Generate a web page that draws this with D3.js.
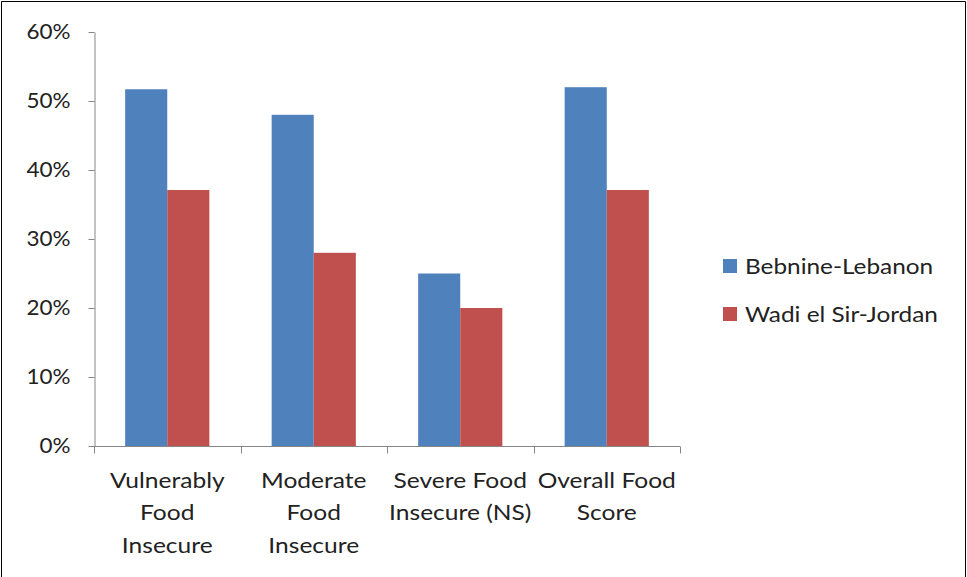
<!DOCTYPE html>
<html>
<head>
<meta charset="utf-8">
<script src="https://cdn.jsdelivr.net/npm/d3@7/dist/d3.min.js"></script>
<style>
  html, body { margin: 0; padding: 0; background: #fff; }
  svg { display: block; }
  text { font-family: Lato, "Open Sans", sans-serif; fill: #222; }
</style>
</head>
<body>
<svg id="chart" width="967" height="577"></svg>
<script>
// Food insecurity indicators by site
const categories = [
  ["Vulnerably", "Food", "Insecure"],
  ["Moderate", "Food", "Insecure"],
  ["Severe Food", "Insecure (NS)"],
  ["Overall Food", "Score"]
];
const seriesNames = ["Bebnine-Lebanon", "Wadi el Sir-Jordan"];
const bebnine = [0.517, 0.48, 0.25, 0.52];
const wadiElSir = [0.371, 0.28, 0.20, 0.371];
const yTicks = [0, 0.1, 0.2, 0.3, 0.4, 0.5, 0.6];
const colors = ["#4F81BD", "#C0504D"];

const svg = d3.select("#chart");

// outer frame
svg.append("path")
  .attr("d", "M1.5,577 V1.5 H965.5 V577")
  .attr("fill", "none").attr("stroke", "#000").attr("stroke-width", 1);

const plot = { left: 94, right: 680, top: 32, bottom: 446 };

const x0 = d3.scaleBand()
  .domain(d3.range(categories.length))
  .range([plot.left, plot.right])
  .paddingInner(0).paddingOuter(0);

const x1 = d3.scaleBand()
  .domain(d3.range(seriesNames.length))
  .range([0, x0.bandwidth()])
  .paddingOuter(0.74).paddingInner(0);

const y = d3.scaleLinear().domain([0, 0.6]).range([plot.bottom, plot.top]);

const data = categories.map((c, i) => [bebnine[i], wadiElSir[i]]);

// bars
const groups = svg.append("g").selectAll("g")
  .data(data).join("g")
  .attr("transform", (d, i) => `translate(${x0(i)},0)`);

groups.selectAll("rect")
  .data(d => d.map((v, s) => ({ v, s })))
  .join("rect")
  .attr("x", d => x1(d.s))
  .attr("width", x1.bandwidth())
  .attr("y", d => y(d.v))
  .attr("height", d => y(0) - y(d.v))
  .attr("fill", d => colors[d.s]);

// y axis
const yAxis = svg.append("g")
  .attr("transform", `translate(${plot.left + 0.5},0)`)
  .call(d3.axisLeft(y).tickValues(yTicks).tickFormat(d3.format(".0%")).tickSize(6).tickSizeOuter(0));
yAxis.select(".domain").attr("stroke", "#868686");
yAxis.selectAll(".tick line").attr("stroke", "#868686");
yAxis.selectAll(".tick text")
  .attr("x", 0)
  .attr("transform", "translate(-24,0) scale(1.07,1)")
  .attr("font-size", 21).attr("fill", "#222")
  .attr("font-family", "Lato, 'Open Sans', sans-serif");

// x axis
const xAxis = svg.append("g")
  .attr("transform", `translate(0,${plot.bottom + 0.5})`);
xAxis.append("line")
  .attr("x1", plot.left).attr("x2", plot.right)
  .attr("stroke", "#868686");
const boundaries = d3.range(categories.length + 1).map(i =>
  i < categories.length ? x0(i) : x0(categories.length - 1) + x0.bandwidth());
xAxis.selectAll("line.tick")
  .data(boundaries).join("line")
  .attr("class", "tick")
  .attr("x1", d => Math.round(d) + 0.5).attr("x2", d => Math.round(d) + 0.5)
  .attr("y1", 0).attr("y2", 7)
  .attr("stroke", "#868686");

// category labels
const labels = svg.append("g").selectAll("text")
  .data(categories).join("text")
  .attr("text-anchor", "middle")
  .attr("font-size", 21)
  .attr("transform", (d, i) => `translate(${x0(i) + x0.bandwidth() / 2},488) scale(1.17,1)`);
labels.selectAll("tspan")
  .data(d => d).join("tspan")
  .attr("x", 0)
  .attr("y", (d, j) => j * 32.5)
  .text(d => d);

// legend
const legend = svg.append("g").selectAll("g")
  .data(seriesNames).join("g")
  .attr("transform", (d, i) => `translate(723,${259 + i * 48})`);
legend.append("rect")
  .attr("width", 14).attr("height", 14)
  .attr("fill", (d, i) => colors[i]);
legend.append("text")
  .attr("transform", "translate(22,15) scale(1.16,1)")
  .attr("font-size", 21)
  .text(d => d);
</script>
</body>
</html>
